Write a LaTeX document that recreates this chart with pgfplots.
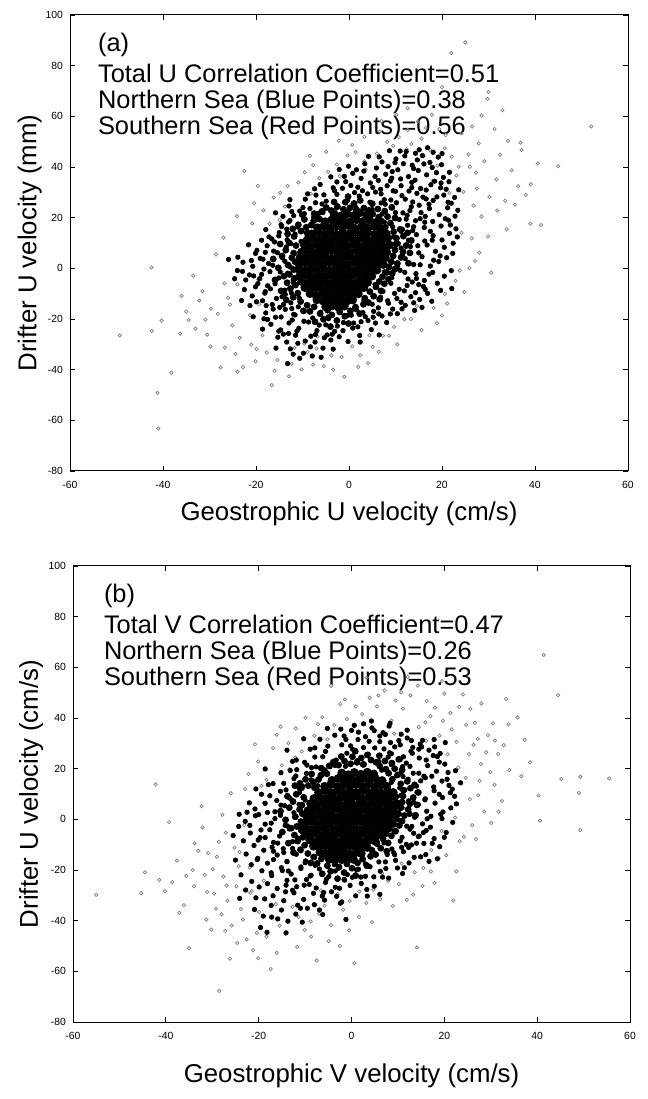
\documentclass[border=0pt]{standalone}
\usepackage{pgfplots}
\pgfplotsset{compat=1.18}
\usepackage{fontspec}
\setmainfont{Liberation Sans}
\pgfplotsset{
  panel/.style={
    width=279pt, height=228pt, scale only axis,
    xmin=-60, xmax=60, ymin=-80, ymax=100,
    xtick={-60,-40,...,60}, ytick={-80,-60,...,100},
    tick align=inside, major tick length=2.5pt,
    every tick/.style={black, line width=0.4pt},
    axis line style={line width=0.5pt},
    /pgf/number format/assume math mode=true,
    tick label style={font=\fontsize{5.2}{6}\selectfont},
    xticklabel style={yshift=-1.5pt},
    label style={font=\fontsize{12.9}{15}\selectfont},
  },
  core/.style={only marks, mark=*, mark size=2.0pt, black},
  ring/.style={only marks, mark=*, mark size=1.5pt, black},
  mid/.style={only marks, mark=*, mark size=1.1pt, black},
  light/.style={only marks, mark=o, mark size=0.85pt, draw=black!50, mark options={line width=0.35pt}},
}
\newcommand{\ann}{\fontsize{12.7}{15}\selectfont}
\begin{document}
\begin{tikzpicture}
\useasboundingbox (0,0) rectangle (324pt,549.5pt);
% ---------------- panel (a) ----------------
\begin{axis}[panel, at={(35pt,314pt)}, anchor=south west,
  xlabel={Geostrophic U velocity (cm/s)},
  ylabel={Drifter U velocity (mm)},
  xlabel style={at={(axis description cs:0.5,-0.0943)}, anchor=center},
  ylabel style={at={(axis description cs:-0.072,0.5)}, anchor=center},
]
\addplot[light] coordinates {(-49.3,-26.5)(-41.2,-49.2)(-41.0,-63.2)(-42.5,0.3)(-42.4,-24.7)(-38.2,-41.2)(-40.3,-20.6)(-36.3,-25.8)(-35.0,-17.1)(-34.5,-20.4)(-33.0,-23.8)(-32.2,-12.7)(-31.5,-9.0)(-29.8,-30.9)(-28.2,-18.0)(-27.6,-39.2)(-27.0,12.1)(-26.8,-5.9)(-25.6,-14.3)(-25.1,-22.5)(-24.4,-33.8)(-23.5,-27.4)(-22.8,-39.0)(-22.5,38.4)(-21.3,-18.5)(-21.0,-30.1)(-20.4,25.7)(-19.9,-31.8)(-19.5,-4.4)(-18.6,-26.4)(-17.7,-33.2)(-17.1,17.6)(-16.6,-46.1)(-16.2,28.0)(-15.4,-36.2)(-14.9,19.0)(-13.8,24.4)(-13.2,32.5)(-12.3,-37.7)(-11.7,-31.4)(-10.9,33.9)(-9.6,-29.8)(-8.9,-33.0)(-8.2,29.4)(-7.7,40.7)(-7.0,-31.7)(-6.4,35.6)(-5.4,-38.6)(-4.5,38.1)(-3.8,-34.4)(-2.6,41.0)(-1.6,-35.0)(-1.0,-42.8)(-0.3,44.6)(0.7,-30.8)(1.4,45.9)(2.4,-34.3)(3.3,42.3)(4.4,-26.4)(5.1,-31.0)(6.0,45.3)(7.3,-26.6)(8.2,49.9)(9.5,48.4)(10.7,51.8)(11.9,-20.1)(12.6,54.6)(13.4,49.1)(14.6,-14.9)(15.6,51.2)(16.5,55.4)(17.4,46.8)(18.9,-21.7)(19.4,55.0)(20.6,47.4)(21.1,-13.9)(22.1,44.1)(22.0,85.0)(23.6,40.1)(24.2,53.3)(24.6,30.2)(25.0,89.2)(25.7,45.0)(25.9,0.1)(26.5,56.0)(26.8,24.8)(27.3,37.8)(27.9,49.3)(28.5,20.5)(29.1,42.3)(29.8,66.9)(30.2,28.2)(30.6,-1.7)(31.3,55.0)(31.9,22.8)(32.5,44.9)(33.0,62.4)(33.6,26.7)(34.2,50.3)(35.0,38.7)(35.7,25.1)(36.4,32.4)(37.1,46.7)(38.0,29.0)(39.1,33.2)(39.0,17.6)(41.3,17.1)(45.0,40.3)(52.1,56.0)(24.2,14.0)(26.4,11.8)(28.0,6.2)(22.9,-4.9)(23.8,-0.9)(20.6,-10.1)(18.2,-15.6)(13.3,-20.0)(9.7,-23.1)(8.6,-26.6)(4.1,-37.4)(-19.3,-14.2)(-24.0,-6.3)(-29.7,-15.9)(-30.9,-20.3)(-36.0,-10.9)(-26.0,-11.6)(-20.8,17.7)(-18.4,22.9)(-10.2,-39.9)(-6.8,-26.9)(-2.0,36.4)(3.6,39.0)(18.0,34.5)(23.1,36.6)(27.5,31.5)(21.6,29.7)(19.0,40.5)(16.0,44.2)(12.4,47.0)(0.7,48.7)(-4.9,46.0)(6.6,54.0)(14.8,58.0)(28.5,60.3)(36.9,49.6)(30.0,69.6)(20.0,71.5)(10.2,60.6)(-8.4,44.4)(33.9,15.4)(40.6,41.4)
(-30.5,-26.2)(-26.7,-31.3)(-24.0,-40.8)(-20.1,-36.7)(-16.0,-40.4)(-12.9,-42.6)(-7.7,-38.0)(-3.4,-40.0)(2.0,-38.9)(6.4,-33.0)(10.4,-30.0)(15.6,-24.4)(20.0,-18.6)(24.8,-9.3)(27.1,2.9)(29.9,12.6)(31.7,35.1)(26.0,40.1)(20.8,52.6)(17.8,60.6)(12.6,63.2)(7.0,58.1)(3.3,51.9)(-2.2,50.4)(-9.5,37.9)(-14.8,29.8)(-19.6,32.5)(-24.1,20.6)(-28.6,5.5)(-33.5,-2.9)};
\addplot[mid] coordinates {(12.3,46.1)(15.8,44.5)(10.1,43.2)(17.4,41.8)(13.6,40.7)(19.2,43.9)(8.4,40.2)(15.1,46.8)(6.5,44.0)(11.7,41.3)
(3.2,38.4)(7.9,37.1)(10.5,38.9)(12.8,36.2)(14.9,38.6)(16.7,36.9)(18.8,37.8)(20.3,35.9)(9.2,35.6)(5.6,36.3)(0.8,37.5)(-2.1,39.0)(13.9,39.4)
(-6.2,33.1)(-3.4,31.8)(-0.7,34.2)(1.9,32.0)(4.6,33.7)(6.8,31.2)(8.9,34.5)(11.2,32.6)(13.5,33.9)(15.4,31.5)(17.6,33.0)(19.7,31.8)(21.5,34.2)(10.0,30.4)(2.9,30.6)
(-9.4,27.3)(-7.1,28.9)(-4.9,26.5)(-2.6,29.2)(-0.3,26.8)(2.2,28.5)(4.5,26.1)(6.9,29.4)(9.0,27.0)(11.4,28.7)(13.7,26.2)(15.9,28.1)(18.1,26.8)(20.4,28.9)(22.0,25.7)(7.8,25.3)(0.9,25.6)(-5.8,25.4)(14.6,29.6)(17.2,25.3)
(-12.3,22.4)(-10.2,21.0)(-8.4,23.6)(-6.5,21.7)(-4.8,24.1)(5.0,23.2)(7.1,21.4)(9.3,23.8)(11.6,21.9)(13.4,24.3)(15.5,22.0)(17.3,23.6)(19.4,21.2)(21.2,23.9)(22.8,20.6)(8.2,20.3)(12.5,20.9)(-2.7,23.8)(1.5,24.0)(-7.6,20.2)(16.4,20.5)
(-14.6,17.2)(-12.7,18.9)(-11.0,16.3)(-9.5,19.4)(-8.2,17.1)(7.6,18.2)(9.4,16.4)(10.8,19.3)(12.6,17.0)(14.3,18.8)(16.2,16.1)(18.0,18.5)(19.8,16.7)(21.4,19.0)(23.0,15.6)(11.5,15.4)(15.3,19.6)(-13.4,15.5)
(-17.2,12.4)(-15.0,14.1)(-13.3,11.3)(-11.6,13.5)(-10.3,10.6)(9.6,12.4)(11.2,14.6)(12.8,11.1)(14.5,13.3)(16.3,10.8)(18.1,12.9)(20.0,11.2)(21.6,13.8)(13.7,14.9)(17.5,14.6)(-16.0,10.4)
(-19.8,7.1)(-17.6,8.9)(-15.4,6.2)(-13.5,8.4)(-11.9,5.8)(-12.5,9.7)(9.9,7.7)(11.5,5.3)(13.2,8.6)(15.0,6.1)(16.8,9.2)(18.6,6.7)(20.5,8.3)(22.3,5.9)(10.6,9.8)(-21.6,9.3)
(-22.8,2.4)(-20.7,0.8)(-18.5,3.6)(-16.4,1.2)(-14.3,4.1)(-12.6,0.5)(-13.8,2.8)(8.8,2.9)(10.4,0.7)(12.1,3.8)(13.9,1.5)(15.7,4.6)(17.5,0.9)(19.3,2.7)(21.0,4.2)(-25.9,3.5)(-23.9,4.4)
(-21.4,-2.6)(-19.2,-4.1)(-17.0,-1.3)(-15.1,-3.8)(-13.2,-1.9)(-12.0,-4.6)(7.6,-1.4)(9.2,-3.7)(11.0,-0.8)(12.7,-4.2)(14.4,-2.1)(16.2,-4.8)(18.0,-1.6)(-24.0,-0.9)(20.5,-3.1)
(-20.1,-7.3)(-18.0,-9.2)(-15.9,-6.1)(-13.8,-8.6)(-11.9,-5.8)(-12.4,-9.7)(5.6,-6.4)(7.3,-9.1)(9.0,-5.9)(10.8,-8.3)(12.5,-6.8)(14.3,-9.6)(16.0,-7.2)(16.9,-9.9)(22.1,-8.0)(-22.5,-8.4)
(-18.6,-12.8)(-16.5,-14.3)(-14.4,-11.2)(-12.5,-13.6)(-10.7,-11.7)(-9.1,-14.4)(3.2,-12.7)(5.0,-14.2)(6.8,-11.4)(8.5,-13.8)(10.3,-11.9)(12.1,-14.6)(15.2,-12.3)(-20.8,-10.9)
(-17.9,-17.6)(-15.8,-19.3)(-13.7,-16.2)(-11.6,-18.4)(-9.6,-16.9)(-7.8,-19.6)(-6.1,-17.3)(-0.3,-18.6)(1.6,-16.4)(3.5,-19.1)(5.3,-17.0)(7.1,-18.8)(-4.4,-19.9)(-2.0,-16.9)
(-16.8,-22.1)(-14.7,-24.3)(-12.9,-21.6)(-10.8,-23.7)(-8.7,-21.2)(-6.9,-24.6)(-5.0,-22.3)(-3.1,-24.9)(-1.2,-21.4)(0.8,-23.6)(2.6,-21.1)(-12.2,-20.4)
(-15.3,-27.2)(-13.4,-29.1)(-11.5,-26.4)(-9.4,-28.7)(-7.2,-26.1)(-3.9,-28.3)(-2.1,-27.0)(-13.0,-25.7)(6.5,-26.3)
(-12.6,-31.8)(-9.8,-33.5)(-13.2,-37.6)(-6.0,-35.1)
(-16.3,-16.1)(-14.1,-14.3)(-12.3,-15.9)(-17.5,-6.9)(-18.8,-2.4)(-17.3,1.9)(-18.0,6.3)(-16.6,11.6)(-14.5,16.5)(-11.9,20.8)(-9.9,24.0)(-5.4,29.0)(-1.4,31.6)(1.2,29.9)(5.7,30.1)(8.2,32.6)(12.9,30.5)(16.6,30.9)(18.9,28.2)(20.9,31.2)(22.7,28.0)(23.4,22.9)(21.8,17.1)(23.3,12.4)(19.6,4.9)(17.2,-2.3)(15.0,-6.4)(13.3,-11.2)(11.2,-13.4)(9.4,-16.1)(6.4,-18.0)(4.1,-20.6)(1.9,-23.1)(-1.3,-24.6)(-4.7,-26.3)(-8.2,-26.8)(-11.0,-29.6)(-14.1,-26.0)(-17.5,-20.2)(-19.9,-13.2)(-22.2,-4.6)(-20.1,5.9)(-18.8,11.1)(-15.8,21.9)(-3.9,36.1)(2.6,35.5)(5.9,39.6)(9.9,41.7)(16.1,41.2)(18.4,34.4)(21.6,37.9)(20.0,45.3)(12.0,44.4)(16.9,47.6)(-0.1,40.3)(4.2,44.2)(8.7,46.4)(23.6,31.0)(22.0,-0.9)(17.8,-13.0)(19.7,-8.7)(14.1,-16.6)(8.1,-21.4)(4.8,-24.2)(-0.2,-28.9)(-5.6,-31.5)(-8.3,-31.0)(-10.6,-35.5)(-15.7,-31.5)(-18.6,-24.0)(-20.6,-19.1)(-23.1,-12.7)(-24.6,-4.1)(13.1,22.8)(15.1,24.9)(14.2,34.8)(19.9,40.9)(-7.4,31.4)(-12.7,27.1)(9.3,38.2)(11.1,35.3)(14.7,42.8)};
\addplot[mid] coordinates {(-16.9,-8.1)(-15.6,-11.9)(-14.8,-1.4)(-16.2,6.8)(-15.1,12.8)(-13.0,18.3)(-10.6,22.6)(-7.2,25.9)(-3.1,30.6)(0.4,32.7)(4.0,29.4)(7.6,27.1)(10.2,25.9)(12.3,19.4)(13.9,16.4)(14.8,8.9)(15.3,1.4)(13.6,-5.4)(11.9,-8.9)(9.8,-9.9)(8.3,-12.8)(6.3,-15.6)(3.0,-17.5)(1.0,-21.6)(-2.5,-22.8)(-6.4,-22.4)(-9.7,-20.9)(-11.9,-18.2)(-14.9,-15.4)(-17.8,-14.7)(-19.6,-6.0)(-18.3,-0.3)(-19.1,3.9)(-14.2,20.5)(-8.9,29.4)(-1.0,36.3)(6.3,34.7)(12.1,27.3)(16.3,18.2)(17.9,11.1)(18.2,3.2)(16.4,-8.3)(13.9,-13.6)(10.4,-17.9)(5.7,-21.6)(2.3,-26.5)(-3.6,-26.0)(-7.3,-29.1)(-11.2,-24.8)(-14.6,-19.2)(-18.3,-19.9)(-21.3,-14.7)(-22.9,-1.2)(-21.0,3.1)(-17.9,15.3)(-12.9,24.6)(3.4,41.3)(7.1,42.0)(11.0,46.3)(14.3,45.4)(18.1,45.8)(17.9,39.8)(19.8,33.7)(21.3,26.1)(20.7,19.6)(22.4,9.9)(19.0,-5.9)(14.5,-4.0)(12.0,-1.6)(11.2,8.0)(10.0,22.0)(6.9,25.8)(-3.4,-31.9)(-7.9,-34.6)(-12.0,-33.9)(-15.1,-24.8)(-18.1,-9.8)(-20.5,-3.0)(-2.6,34.1)(1.6,38.9)(5.1,31.9)(13.5,31.9)(16.6,27.4)(9.5,30.6)(-5.6,22.0)(-9.6,21.6)(-13.7,-10.3)(-10.9,-15.2)(-4.5,-19.2)(0.5,-18.5)(5.2,-19.3)(8.9,-18.0)(11.4,-16.0)(15.7,-15.4)(2.4,-29.1)(-5.3,-27.4)};
\addplot[ring] coordinates {(-11.8,12.6)(-12.9,10.1)(-11.4,9.0)(-13.6,7.2)(-11.9,6.0)(-14.4,4.9)(-12.3,4.2)(-11.6,2.6)(-13.1,1.3)(-15.2,0.2)(-11.9,-0.5)(-12.8,-2.4)(-14.0,-3.1)(-11.7,-3.9)(-13.3,-5.7)(-11.5,-6.6)(-12.6,-8.0)(-14.6,-8.9)(-11.0,-9.8)(-12.0,-11.4)(-13.5,-12.5)(-10.4,-13.1)(-15.9,-4.6)(-16.3,3.7)(-14.8,9.6)(-13.2,13.6)
(-9.0,-14.6)(-7.5,-15.2)(-8.4,-17.0)(-6.2,-17.9)(-4.6,-16.5)(-3.7,-18.4)(-2.0,-17.2)(-0.9,-18.9)(0.3,-16.8)(1.4,-15.3)(2.3,-17.9)(-5.5,-20.1)(-2.6,-20.6)(-7.3,-21.1)(-0.1,-21.8)(3.1,-14.2)(-9.8,-16.8)(-4.0,-23.0)
(3.4,-11.8)(4.5,-9.2)(5.3,-11.0)(5.8,-7.3)(6.9,-8.9)(6.5,-5.2)(7.6,-6.1)(7.2,-3.3)(8.5,-4.3)(8.1,-1.6)(9.3,-2.0)(8.6,0.5)(9.9,-0.3)(4.2,-13.5)(6.6,-12.2)
(9.1,2.6)(10.4,1.9)(9.5,4.9)(11.2,4.3)(9.9,7.2)(11.6,6.6)(10.1,9.6)(12.3,9.0)(10.2,11.9)(11.7,12.7)(9.6,14.4)(11.0,15.4)(12.6,14.0)(13.1,6.1)(12.8,2.0)(13.4,11.0)
(7.8,16.2)(8.9,17.9)(7.0,18.6)(8.3,20.4)(6.4,20.2)(7.7,22.6)(5.1,21.4)(6.2,23.4)(4.3,22.9)(3.2,23.8)(5.0,25.5)(9.9,19.9)(9.2,24.1)
(1.6,23.1)(0.2,23.9)(-1.2,23.3)(-2.5,24.4)(-3.8,22.8)(-4.9,24.0)(1.1,25.6)(-0.8,26.1)(-3.2,26.2)(2.4,26.8)(-5.8,22.5)(-6.9,20.7)(-0.2,28.3)
(-6.3,19.4)(-7.6,18.8)(-8.1,17.1)(-9.2,16.2)(-7.5,21.6)(-9.6,19.3)(-10.3,14.7)(-10.9,17.2)(-9.0,13.9)(-12.1,15.6)};
\addplot[core] coordinates {(-3.2,21.3)(-1.8,20.6)(-0.4,21.5)(1.0,20.8)(2.3,21.9)(3.8,21.0)
(-5.1,18.4)(-3.7,19.1)(-2.5,18.2)(-1.1,18.9)(0.3,18.3)(1.6,19.2)(3.0,18.5)(4.4,19.0)(5.7,18.1)
(-6.8,16.0)(-5.4,16.7)(-4.1,15.9)(-2.8,16.5)(-1.4,16.0)(0.0,16.8)(1.3,15.8)(2.7,16.4)(4.0,15.9)(5.4,16.6)(6.6,16.0)
(-8.0,13.6)(-6.6,14.2)(-5.3,13.5)(-4.0,14.1)(-2.7,13.4)(-1.3,14.0)(0.1,13.6)(1.4,14.3)(2.8,13.5)(4.1,14.0)(5.5,13.4)(6.8,14.1)(8.0,13.6)
(-9.0,11.2)(-7.7,11.8)(-6.4,11.1)(-5.0,11.7)(-3.7,11.0)(-2.4,11.6)(-1.0,11.2)(0.3,11.9)(1.6,11.1)(3.0,11.7)(4.3,11.0)(5.7,11.6)(7.0,11.2)(8.3,11.8)
(-9.6,9.2)(-8.3,8.7)(-7.0,9.4)(-5.7,8.8)(-4.4,9.3)(-3.1,8.6)(-1.7,9.2)(-0.4,8.8)(0.9,9.4)(2.2,8.7)(3.6,9.3)(4.9,8.8)(6.2,9.3)(7.5,8.7)(8.7,9.2)
(-10.2,6.4)(-8.9,7.0)(-7.6,6.3)(-6.3,6.9)(-5.0,6.5)(-3.6,7.1)(-2.3,6.4)(-1.0,6.9)(0.3,6.3)(1.7,7.0)(3.0,6.4)(4.3,6.9)(5.6,6.3)(6.9,6.8)(8.1,6.4)
(-10.5,4.4)(-9.2,3.9)(-7.9,4.5)(-6.6,4.0)(-5.2,4.6)(-3.9,3.9)(-2.6,4.4)(-1.3,4.0)(0.0,4.6)(1.4,3.9)(2.7,4.5)(4.0,4.0)(5.3,4.5)(6.6,3.9)(7.8,4.3)
(-10.7,1.6)(-9.4,2.2)(-8.1,1.5)(-6.8,2.1)(-5.5,1.6)(-4.2,2.2)(-2.9,1.5)(-1.5,2.0)(-0.2,1.6)(1.1,2.2)(2.4,1.5)(3.7,2.1)(5.0,1.6)(6.3,2.0)(7.4,1.5)
(-10.8,-0.4)(-9.5,-0.9)(-8.2,-0.3)(-6.9,-0.8)(-5.6,-0.2)(-4.3,-0.9)(-3.0,-0.4)(-1.7,-0.8)(-0.4,-0.3)(0.9,-0.9)(2.2,-0.4)(3.5,-0.8)(4.8,-0.3)(6.0,-0.7)
(-10.6,-3.2)(-9.3,-2.6)(-8.0,-3.3)(-6.7,-2.7)(-5.4,-3.2)(-4.1,-2.6)(-2.8,-3.3)(-1.5,-2.8)(-0.2,-3.2)(1.1,-2.6)(2.4,-3.3)(3.7,-2.8)(4.9,-3.1)
(-10.2,-5.2)(-8.9,-5.8)(-7.6,-5.1)(-6.3,-5.7)(-5.0,-5.2)(-3.7,-5.8)(-2.4,-5.1)(-1.1,-5.6)(0.2,-5.2)(1.5,-5.8)(2.8,-5.2)(4.0,-5.6)
(-9.5,-7.6)(-8.2,-8.1)(-6.9,-7.5)(-5.6,-8.2)(-4.3,-7.6)(-3.0,-8.1)(-1.7,-7.5)(-0.4,-8.0)(0.9,-7.6)(2.2,-8.1)(3.2,-7.6)
(-8.4,-10.0)(-7.1,-10.6)(-5.8,-10.0)(-4.5,-10.5)(-3.2,-9.9)(-1.9,-10.4)(-0.6,-10.0)(0.7,-10.5)(2.0,-10.1)
(-6.9,-12.4)(-5.6,-12.9)(-4.3,-12.3)(-3.0,-12.8)(-1.7,-12.4)(-0.4,-12.9)(0.8,-12.5)
(-5.0,-15.2)(-3.6,-14.8)(-2.3,-15.3)(-1.0,-14.9)};
\node[anchor=base west, font=\ann] at (axis description cs:0.0376,0.919) {(a)};
\node[anchor=base west, font=\ann] at (axis description cs:0.0376,0.853) {Total U Correlation Coefficient=0.51};
\node[anchor=base west, font=\ann] at (axis description cs:0.0376,0.796) {Northern Sea (Blue Points)=0.38};
\node[anchor=base west, font=\ann] at (axis description cs:0.0376,0.737) {Southern Sea (Red Points)=0.56};
\end{axis}
% ---------------- panel (b) ----------------
\begin{axis}[panel, at={(36.5pt,38.5pt)}, anchor=south west, width=278.5pt,
  xlabel={Geostrophic V velocity (cm/s)},
  ylabel={Drifter U velocity (cm/s)},
  xlabel style={at={(axis description cs:0.5,-0.1184)}, anchor=center},
  ylabel style={at={(axis description cs:-0.075,0.5)}, anchor=center},
]
\addplot[light] coordinates {(-55.0,-29.8)(-45.3,-29.2)(-44.5,-20.9)(-42.2,13.8)(-41.4,-23.9)(-40.2,-28.4)(-39.3,-1.1)(-38.6,-24.8)(-37.1,-36.9)(-36.1,-33.9)(-35.0,-50.9)(-34.2,-20.0)(-33.8,-9.5)(-33.0,-12.4)(-32.3,5.2)(-31.6,-21.9)(-30.9,-13.3)(-30.2,-43.5)(-29.6,-29.3)(-29.0,-14.8)(-28.5,-67.7)(-28.0,-37.5)(-27.6,-22.6)(-27.1,-5.3)(-26.7,-32.1)(-26.2,-55.0)(-25.8,-41.9)(-25.2,-11.2)(-24.8,-26.4)(-24.3,-18.5)(-23.8,-35.4)(-23.1,-2.3)(-22.6,-47.4)(-22.2,17.9)(-21.8,-29.0)(-21.2,-51.7)(-20.8,29.6)(-20.4,-44.9)(-19.9,-36.6)(-19.4,13.2)(-18.9,-24.2)(-18.3,-46.3)(-17.4,-59.1)(-16.9,28.1)(-16.3,-33.5)(-15.5,-42.0)(-15.0,21.3)(-14.2,-45.2)(-13.4,19.8)(-12.7,-34.5)(-12.1,24.4)(-11.4,-38.6)(-10.7,26.8)(-10.1,-43.7)(-9.4,14.1)(-8.8,-40.3)(-8.0,33.0)(-7.5,-55.7)(-7.0,-37.2)(-6.3,40.3)(-5.8,-34.1)(-5.2,31.6)(-4.4,-41.8)(-3.7,37.2)(-3.0,-29.5)(-2.4,45.5)(-1.8,-35.7)(-1.0,39.6)(-0.4,-32.2)(0.6,-56.8)(0.9,44.5)(1.6,-38.6)(2.3,41.5)(3.2,-33.0)(3.9,48.0)(4.7,-27.8)(5.5,44.6)(6.2,-31.5)(7.1,50.9)(7.9,-24.3)(8.6,39.0)(9.5,46.9)(10.2,-25.6)(11.1,43.7)(11.9,-31.8)(12.7,48.9)(13.6,-20.9)(14.1,-50.6)(14.5,36.4)(15.3,-26.3)(16.2,46.7)(17.1,-20.6)(18.0,44.1)(18.8,-15.3)(19.7,38.9)(20.4,-14.2)(21.3,42.0)(21.9,-32.0)(22.6,30.6)(23.3,-8.6)(24.0,49.3)(24.6,16.4)(25.3,25.7)(26.0,-2.3)(26.6,38.1)(27.3,9.5)(27.9,21.8)(28.6,3.1)(29.4,33.2)(30.1,-1.4)(30.8,13.6)(31.6,25.8)(32.4,7.2)(33.3,47.5)(34.0,19.4)(35.8,40.2)(36.6,17.0)(37.3,31.4)(38.5,22.5)(40.3,9.4)(40.6,-0.5)(41.4,64.9)(44.5,49.0)(45.2,15.9)(49.3,16.8)(49.0,10.4)(49.3,-4.2)(55.5,16.1)(26.3,29.4)(23.0,20.4)(20.7,25.7)(22.3,0.7)(24.2,-6.9)(19.4,-4.6)(17.2,-12.1)(15.5,-19.2)(10.8,-17.4)(6.6,-21.3)(-2.5,-50.0)(-8.7,-46.3)(-21.5,-28.3)(-24.1,-12.9)(-27.8,1.8)(-22.9,11.9)(-18.3,15.6)(-16.1,33.4)(-12.0,35.9)(-4.4,52.7)(3.3,55.9)(12.1,56.2)(19.5,54.6)(-29.9,-19.7)(-33.9,-26.4)(-23.4,-39.6)(30.5,37.9)(28.0,45.7)(16.1,31.0)(9.2,33.8)(-6.6,-28.1)(1.7,-28.5)
(15.9,38.3)(19.0,33.0)(21.6,35.5)(24.7,37.3)(25.6,43.6)(27.2,31.7)(29.0,26.5)(30.9,31.1)(32.8,29.3)(33.8,37.5)(27.6,15.2)(25.5,8.0)(29.9,18.6)(31.7,3.0)(26.8,-7.8)(22.6,-20.6)(17.9,-25.1)(13.3,-29.7)(8.9,-34.2)(4.4,-40.6)(-0.5,-43.8)(-4.9,-48.1)(-11.7,-50.3)(-16.1,-52.7)(-20.1,-54.8)(-24.6,-48.8)(-27.2,-44.1)(-29.2,-35.3)(-31.1,-28.7)(-35.6,-22.3)(-37.6,-16.3)(-32.1,-3.2)(-28.6,-8.9)(-26.0,10.3)(-20.1,22.8)(-13.6,30.1)(-7.2,37.5)(-1.4,47.3)(5.8,48.9)(10.7,50.2)(14.3,52.8)(20.0,49.6)(23.2,44.4)(17.0,40.7)(-9.9,40.1)(-15.3,36.6)(-18.9,6.5)(-21.9,-19.0)(-26.9,-26.1)(-31.3,-39.6)};
\addplot[mid] coordinates {(-3.6,33.2)(-1.2,31.5)(1.5,34.4)(3.8,30.8)(6.1,32.9)(8.4,30.3)(10.7,33.6)(12.9,31.1)(-0.2,29.0)(4.9,35.0)(9.3,28.6)(14.8,29.7)(2.6,28.3)(-5.1,28.9)
(-7.9,24.6)(-5.6,26.8)(-3.3,23.4)(-1.0,26.1)(1.3,23.2)(3.6,25.7)(5.9,22.8)(8.2,26.3)(10.5,23.6)(12.8,26.9)(14.6,24.2)(16.7,27.3)(18.5,24.8)(-10.1,22.5)(7.0,27.8)(11.8,22.2)(0.2,27.7)
(-11.8,19.6)(-9.7,18.1)(-7.6,20.7)(-5.5,18.8)(-3.6,21.3)(6.5,19.4)(8.6,21.6)(10.7,18.6)(12.6,20.9)(14.5,18.2)(16.4,21.2)(18.3,19.0)(20.1,21.8)(-1.3,20.9)(2.4,21.5)(9.7,17.2)(15.6,17.0)
(-14.6,14.2)(-12.4,16.1)(-10.5,13.0)(-8.7,15.6)(-7.3,13.3)(8.6,14.6)(10.4,12.4)(12.2,15.8)(14.0,13.1)(15.9,16.4)(17.7,12.8)(19.5,15.1)(21.0,13.4)(11.1,16.9)(-11.3,12.3)
(-17.6,9.3)(-15.3,11.1)(-13.2,8.2)(-11.2,10.6)(-10.0,7.6)(10.6,9.4)(12.3,7.3)(14.1,10.7)(15.9,8.1)(17.8,11.3)(19.6,8.6)(21.3,10.5)(11.5,11.6)(-16.1,7.4)
(-20.8,4.1)(-18.6,6.3)(-16.5,3.0)(-14.4,5.4)(-12.4,2.6)(-11.3,5.9)(10.9,4.6)(12.6,2.3)(14.4,5.8)(16.2,3.2)(18.0,6.4)(19.7,2.9)(13.4,6.7)(-22.5,2.8)
(-22.9,-0.8)(-20.7,1.4)(-18.6,-1.9)(-16.5,0.3)(-14.3,-2.4)(-12.2,0.9)(-11.0,-2.6)(10.3,-0.3)(11.9,-2.7)(13.6,0.8)(15.3,-1.8)(17.1,1.2)(12.5,1.9)(-15.3,1.6)
(-21.8,-5.4)(-19.7,-7.2)(-17.6,-4.1)(-15.5,-6.6)(-13.4,-3.8)(-11.6,-7.4)(-10.6,-5.0)(9.2,-4.6)(10.9,-7.1)(12.6,-3.9)(14.4,-6.8)(16.1,-4.4)(17.8,-7.6)(13.4,-5.5)
(-21.0,-10.3)(-18.9,-12.2)(-16.8,-9.1)(-14.7,-11.6)(-12.7,-8.8)(-10.9,-12.4)(7.0,-9.3)(8.7,-11.7)(10.5,-8.6)(12.3,-11.1)(14.0,-9.4)(11.2,-12.8)(-20.1,-8.2)
(-20.2,-15.4)(-18.1,-17.3)(-16.0,-14.1)(-13.9,-16.7)(-11.9,-13.8)(-10.0,-17.1)(-8.3,-14.9)(4.1,-14.4)(5.9,-16.8)(7.7,-13.9)(9.5,-16.2)(3.0,-17.6)(-21.6,-17.9)
(-19.3,-20.3)(-17.2,-22.2)(-15.1,-19.1)(-13.0,-21.6)(-10.9,-18.8)(-8.9,-22.4)(-6.9,-19.6)(-4.9,-22.6)(-2.8,-19.3)(-0.9,-21.8)(1.1,-19.9)(3.0,-22.5)(-7.8,-18.2)(-3.7,-17.9)(0.2,-22.9)
(-18.1,-25.4)(-16.0,-27.3)(-13.9,-24.1)(-11.8,-26.6)(-9.7,-23.8)(-7.6,-27.1)(-5.6,-24.9)(-3.5,-26.8)(-1.6,-23.7)(-19.9,-26.7)(-12.7,-28.0)
(-16.9,-30.2)(-14.6,-32.1)(-12.4,-29.0)(-10.3,-31.6)(-8.2,-29.2)(-5.8,-31.9)(-18.7,-31.4)(-14.2,-28.6)
(-15.1,-35.8)(-12.0,-37.4)(-17.2,-38.6)(-9.5,-35.1)(-13.7,-40.2)(-19.6,-42.7)
(-16.8,-12.6)(-14.9,-20.2)(-12.2,-23.9)(-9.1,-25.7)(-6.0,-28.9)(-3.2,-30.4)(-0.3,-26.1)(2.1,-25.3)(4.8,-22.7)(7.4,-19.4)(9.1,-13.2)(11.8,-9.9)(15.6,-9.5)(17.0,-3.1)(19.5,0.3)(21.4,4.5)(22.2,9.1)(20.6,15.8)(19.1,26.0)(16.1,23.4)(13.2,28.4)(10.2,31.1)(6.8,34.2)(3.0,32.6)(-2.3,35.6)(-6.8,31.6)(-8.9,27.7)(-12.7,22.9)(-15.2,18.4)(-17.9,13.7)(-19.4,9.9)(-22.0,6.5)(-24.3,-2.8)(-23.3,-8.5)(-22.7,-13.7)(-23.8,-21.9)(-21.5,-24.5)(-20.6,-31.0)(-17.3,-34.0)(-15.9,-39.3)(-11.6,-33.9)(-8.0,-33.7)(-10.6,-40.6)(-18.2,-44.6)(-6.2,-37.6)(-2.1,-32.6)(0.9,-30.2)(4.9,-26.4)(8.0,-23.2)(11.0,-21.4)(13.5,-15.0)(16.0,-13.9)(19.0,-10.8)(20.4,-5.2)(21.8,-1.2)(15.1,28.6)(17.8,31.5)(12.0,35.2)(8.3,37.9)(4.3,38.8)(0.6,37.1)(-5.2,35.9)(-10.3,31.8)(-13.9,27.3)(-18.6,19.9)(-20.6,12.0)(-24.2,2.0)(-25.5,-6.4)(-25.0,-16.1)(-19.0,-38.2)(20.2,30.3)(22.4,19.2)(23.5,14.4)(18.5,-15.6)(-1.2,-39.5)(6.1,-29.6)(-14.1,-44.8)};
\addplot[mid] coordinates {(-15.9,-9.4)(-14.6,-13.1)(-13.8,-2.6)(-15.2,5.6)(-14.1,11.6)(-12.0,17.1)(-9.6,21.4)(-6.2,24.7)(-2.1,29.4)(1.4,31.5)(5.0,28.2)(8.6,25.9)(11.2,24.7)(13.3,18.2)(14.9,15.2)(15.8,7.7)(16.3,0.2)(14.6,-6.6)(12.9,-10.1)(10.8,-11.1)(9.3,-14.0)(7.3,-16.8)(4.0,-18.7)(2.0,-22.8)(-1.5,-24.0)(-5.4,-23.6)(-8.7,-22.1)(-10.9,-19.4)(-13.9,-16.6)(-16.8,-15.9)(-18.6,-7.2)(-17.3,-1.5)(-18.1,2.7)(-13.2,19.3)(-7.9,28.2)(0.0,35.1)(7.3,33.5)(13.1,26.1)(17.3,17.0)(18.9,9.9)(19.2,2.0)(17.4,-9.5)(14.9,-14.8)(11.4,-19.1)(6.7,-22.8)(3.3,-27.7)(-2.6,-27.2)(-6.3,-30.3)(-10.2,-26.0)(-13.6,-20.4)(-17.3,-21.1)(-20.3,-15.9)(-21.9,-2.4)(-20.0,1.9)(-16.9,14.1)(-11.9,23.4)(4.4,36.1)(8.1,36.8)(12.0,32.1)(15.3,31.2)(17.9,28.6)(18.9,22.6)(20.8,18.5)(21.7,11.9)(22.6,6.1)(20.0,-7.1)(15.5,-5.2)(13.0,-2.8)(12.2,6.8)(11.0,20.8)(7.9,24.6)(-2.4,-33.1)(-6.9,-35.8)(-11.0,-35.1)(-14.1,-26.0)(-17.1,-11.0)(-19.5,-4.2)(-1.6,32.9)(2.6,37.7)(6.1,30.7)(14.5,27.7)(17.6,25.2)(10.5,29.4)(-4.6,20.8)(-8.6,20.4)(-12.7,-11.5)(-9.9,-16.4)(-3.5,-20.4)(1.5,-19.7)(6.2,-20.5)(9.9,-19.2)(12.4,-17.2)(16.7,-16.6)(3.4,-30.3)(-4.3,-28.6)(-22.8,-27.9)(-24.1,-31.2)(-20.9,-35.6)};
\addplot[ring] coordinates {(-10.8,12.4)(-11.9,9.9)(-10.3,8.7)(-12.6,7.0)(-10.7,5.6)(-13.4,4.6)(-11.2,3.9)(-10.6,2.2)(-12.1,1.0)(-14.2,-0.2)(-10.9,-0.9)(-11.8,-2.8)(-13.0,-3.5)(-10.8,-4.4)(-12.3,-6.2)(-10.5,-7.1)(-11.6,-8.6)(-13.6,-9.4)(-10.1,-10.2)(-11.0,-12.0)(-12.5,-13.1)(-9.4,-13.5)(-14.9,-5.0)(-15.3,3.2)(-13.8,9.1)(-12.2,13.3)
(-8.1,-14.9)(-6.5,-15.6)(-7.4,-17.4)(-5.2,-18.3)(-3.6,-16.9)(-2.7,-18.8)(-1.0,-17.6)(0.1,-19.3)(1.3,-17.2)(2.4,-15.7)(3.3,-18.3)(-4.5,-20.5)(-1.6,-21.0)(-6.3,-21.5)(0.9,-22.2)(4.1,-14.6)(-8.8,-17.2)(-3.0,-23.4)
(4.4,-12.2)(5.5,-9.6)(6.3,-11.4)(6.8,-7.7)(7.9,-9.3)(7.5,-5.6)(8.6,-6.5)(8.2,-3.7)(9.5,-4.7)(9.1,-2.0)(10.3,-2.4)(9.6,0.1)(10.9,-0.7)(5.2,-13.9)(7.6,-12.6)
(10.1,2.2)(11.4,1.5)(10.5,4.5)(12.2,3.9)(10.9,6.8)(12.6,6.2)(11.1,9.2)(13.3,8.6)(11.2,11.5)(12.7,12.3)(10.6,14.0)(12.0,15.0)(13.6,13.6)(14.1,5.7)(13.8,1.6)(14.4,10.6)
(8.8,15.8)(9.9,17.5)(8.0,18.2)(9.3,20.0)(7.4,19.8)(8.7,22.2)(6.1,21.0)(7.2,23.0)(5.3,22.5)(4.2,23.4)(6.0,25.1)(10.9,19.5)(10.2,23.7)
(2.6,21.7)(1.2,22.5)(-0.2,21.9)(-1.5,23.0)(-2.8,21.4)(-3.9,22.6)(2.1,24.2)(0.2,24.7)(-2.2,24.8)(3.4,25.4)(-4.8,21.1)(-5.9,19.3)(0.8,26.9)
(-5.3,18.0)(-6.6,17.4)(-7.1,15.7)(-8.2,14.8)(-6.5,20.2)(-8.6,17.9)(-9.3,13.3)(-9.9,15.8)(-8.0,12.5)(-11.1,14.2)};
\addplot[core] coordinates {(-2.1,18.3)(-0.7,17.6)(0.6,18.5)(2.0,17.8)(3.4,18.6)(4.8,17.9)
(-4.2,15.4)(-2.9,16.1)(-1.5,15.3)(-0.2,16.0)(1.2,15.4)(2.5,16.2)(3.9,15.5)(5.2,16.0)(6.6,15.3)
(-5.8,13.0)(-4.5,13.7)(-3.1,12.9)(-1.8,13.5)(-0.4,13.0)(0.9,13.8)(2.3,13.1)(3.6,13.6)(5.0,12.9)(6.3,13.6)(7.6,13.1)
(-7.1,10.6)(-5.7,11.3)(-4.4,10.5)(-3.0,11.1)(-1.7,10.4)(-0.3,11.0)(1.0,10.6)(2.4,11.3)(3.7,10.5)(5.1,11.0)(6.4,10.4)(7.8,11.1)(9.0,10.6)
(-8.1,8.2)(-6.8,8.8)(-5.4,8.1)(-4.1,8.7)(-2.8,8.0)(-1.4,8.6)(-0.1,8.2)(1.3,8.9)(2.6,8.1)(4.0,8.7)(5.3,8.0)(6.7,8.6)(8.0,8.2)(9.3,8.8)
(-8.8,6.2)(-7.5,5.7)(-6.2,6.4)(-4.9,5.8)(-3.5,6.3)(-2.2,5.6)(-0.8,6.2)(0.5,5.8)(1.8,6.4)(3.2,5.7)(4.5,6.3)(5.9,5.8)(7.2,6.3)(8.5,5.7)(9.7,6.2)
(-9.4,3.4)(-8.1,4.0)(-6.8,3.3)(-5.5,3.9)(-4.2,3.5)(-2.8,4.1)(-1.5,3.4)(-0.2,3.9)(1.2,3.3)(2.5,4.0)(3.8,3.4)(5.1,3.9)(6.5,3.3)(7.8,3.8)(9.0,3.4)
(-9.7,1.4)(-8.4,0.9)(-7.1,1.5)(-5.8,1.0)(-4.5,1.6)(-3.2,0.9)(-1.9,1.4)(-0.5,1.0)(0.8,1.6)(2.1,0.9)(3.5,1.5)(4.8,1.0)(6.1,1.5)(7.4,0.9)(8.6,1.3)
(-9.9,-1.4)(-8.6,-0.8)(-7.3,-1.5)(-6.0,-0.9)(-4.7,-1.4)(-3.4,-0.8)(-2.1,-1.5)(-0.8,-1.0)(0.5,-1.4)(1.8,-0.8)(3.1,-1.5)(4.4,-1.0)(5.7,-1.4)(7.0,-0.9)(8.2,-1.5)
(-9.8,-3.4)(-8.5,-3.9)(-7.2,-3.3)(-5.9,-3.8)(-4.6,-3.2)(-3.3,-3.9)(-2.0,-3.4)(-0.7,-3.8)(0.6,-3.3)(1.9,-3.9)(3.2,-3.4)(4.5,-3.8)(5.8,-3.3)(7.0,-3.7)
(-9.5,-6.2)(-8.2,-5.6)(-6.9,-6.3)(-5.6,-5.7)(-4.3,-6.2)(-3.0,-5.6)(-1.7,-6.3)(-0.4,-5.8)(0.9,-6.2)(2.2,-5.6)(3.5,-6.3)(4.8,-5.8)(6.0,-6.1)
(-9.0,-8.2)(-7.7,-8.8)(-6.4,-8.1)(-5.1,-8.7)(-3.8,-8.2)(-2.5,-8.8)(-1.2,-8.1)(0.1,-8.6)(1.4,-8.2)(2.7,-8.8)(4.0,-8.1)(5.1,-8.6)
(-8.2,-10.6)(-6.9,-11.1)(-5.6,-10.5)(-4.3,-11.2)(-3.0,-10.6)(-1.7,-11.1)(-0.4,-10.5)(0.9,-11.0)(2.2,-10.6)(3.4,-11.1)
(-6.8,-13.0)(-5.5,-13.6)(-4.2,-12.9)(-2.9,-13.5)(-1.6,-13.0)(-0.3,-13.7)(1.0,-13.1)(2.1,-13.5)
(-4.8,-15.8)(-3.4,-15.3)(-2.1,-15.9)(-0.8,-15.4)(0.4,-15.8)};
\node[anchor=base west, font=\ann] at (axis description cs:0.043,0.919) {(b)};
\node[anchor=base west, font=\ann] at (axis description cs:0.043,0.853) {Total V Correlation Coefficient=0.47};
\node[anchor=base west, font=\ann] at (axis description cs:0.043,0.796) {Northern Sea (Blue Points)=0.26};
\node[anchor=base west, font=\ann] at (axis description cs:0.043,0.737) {Southern Sea (Red Points)=0.53};
\end{axis}
\end{tikzpicture}
\end{document}
